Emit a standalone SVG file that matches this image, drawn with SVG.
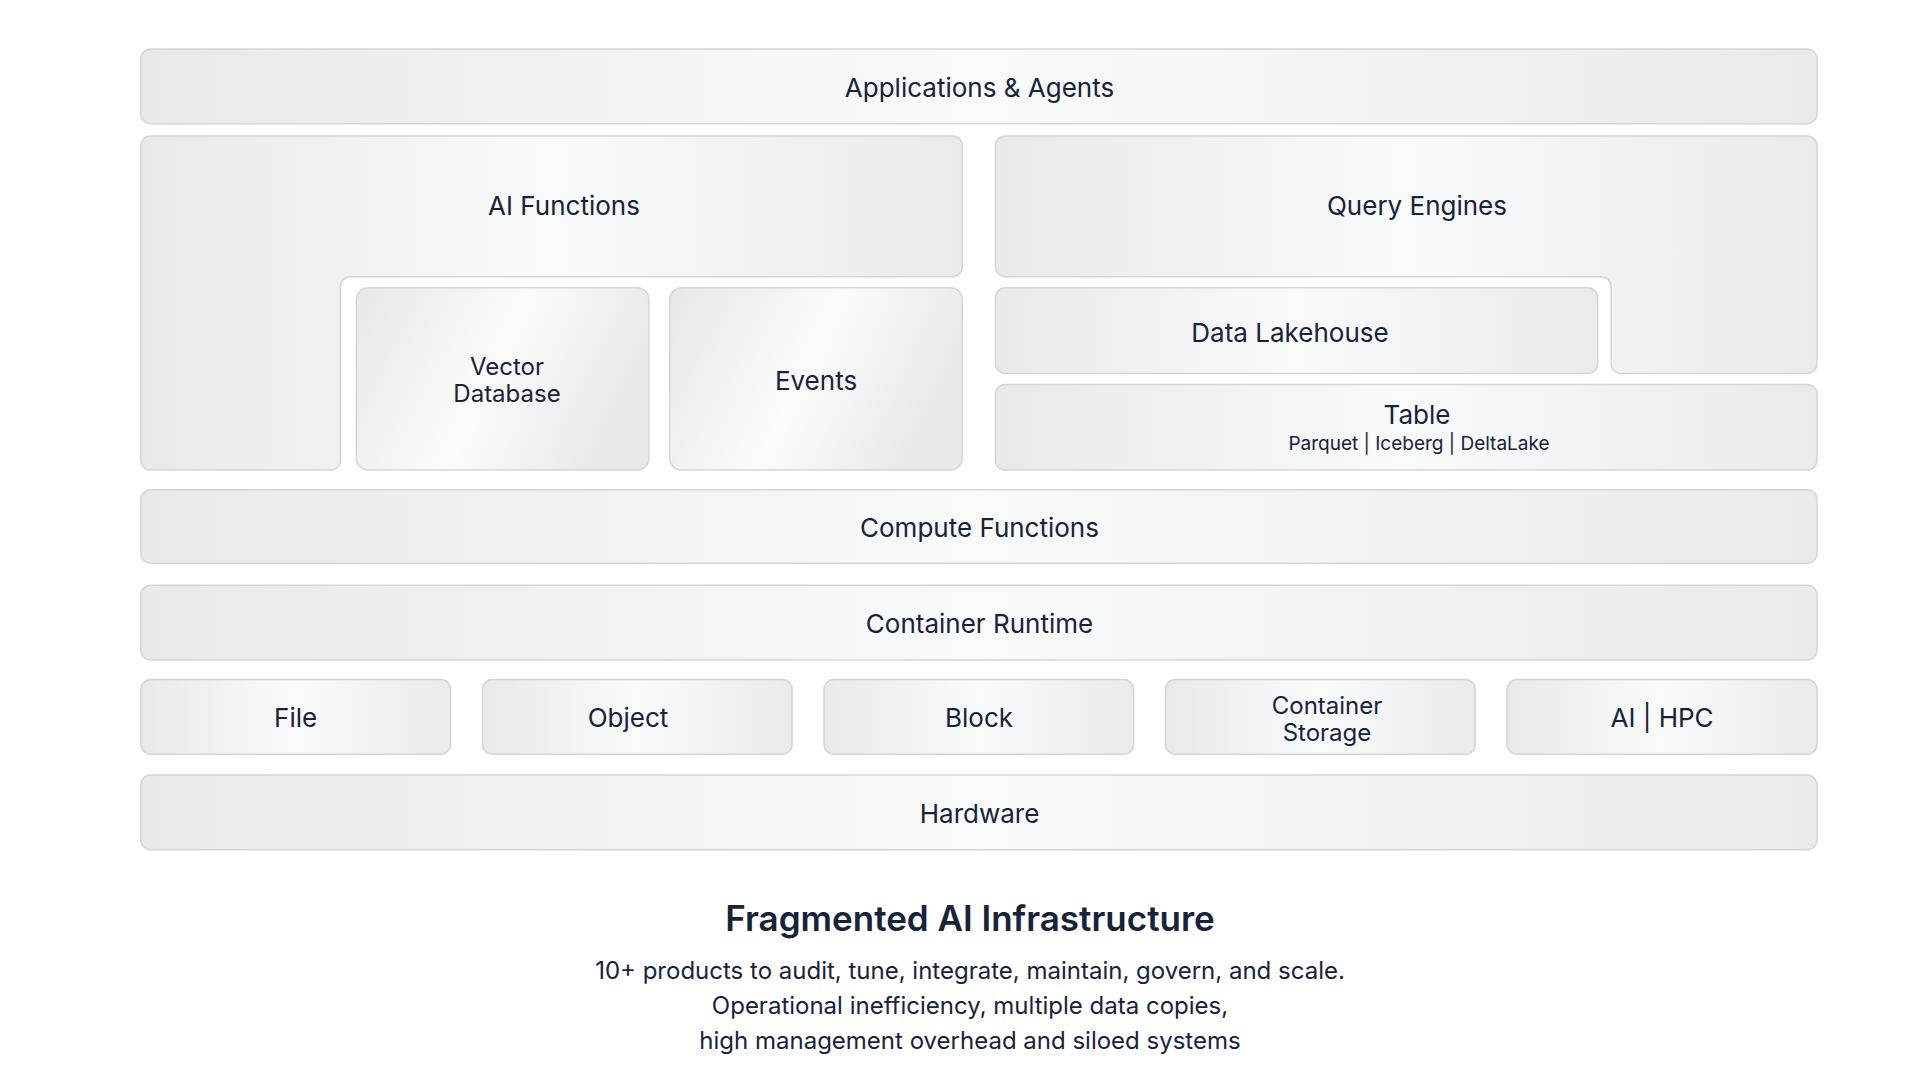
<svg xmlns="http://www.w3.org/2000/svg" width="1920" height="1080" viewBox="0 0 1920 1080">
<defs>
<linearGradient id="g" x1="0" y1="0" x2="1" y2="0">
<stop offset="0" stop-color="#e8e9eb"/><stop offset="0.5" stop-color="#f9fafa"/><stop offset="1" stop-color="#e9eaec"/>
</linearGradient>
<linearGradient id="g2" x1="0" y1="0" x2="1" y2="0.3">
<stop offset="0" stop-color="#e6e7e9"/><stop offset="0.55" stop-color="#fbfbfb"/><stop offset="1" stop-color="#e8e9eb"/>
</linearGradient>
</defs>
<style>
.b{fill:url(#g);stroke:#d3d5d8;stroke-width:1.5}
.c{fill:url(#g2);stroke:#d3d5d8;stroke-width:1.5}
text{font-family:Inter,"Liberation Sans",sans-serif;fill:#17223b;text-anchor:middle}
.l{font-size:26px}
.m{font-size:24px}
.s{font-size:19px}
.t{font-size:35px;font-weight:600}
.d{font-size:24px}
</style>
<rect width="1920" height="1080" fill="#fff"/>
<g id="apps"><rect class="b" x="140.8" y="49" width="1676.2" height="74.7" rx="10"/><text class="l" x="979.5" y="97">Applications &amp; Agents</text></g>
<g id="ai-functions"><path class="b" d="M150.8 135.9 H952.3 a10 10 0 0 1 10 10 V266.7 a10 10 0 0 1 -10 10 H350.4 a10 10 0 0 0 -10 10 V460.1 a10 10 0 0 1 -10 10 H150.8 a10 10 0 0 1 -10 -10 V145.9 a10 10 0 0 1 10 -10 Z"/><text class="l" x="564" y="215">AI Functions</text></g>
<g id="vector-db"><rect class="c" x="356.3" y="287.7" width="292.6" height="182.4" rx="12"/><text class="m" x="507" y="375">Vector</text><text class="m" x="507" y="402">Database</text></g>
<g id="events"><rect class="c" x="669.7" y="287.7" width="292.6" height="182.4" rx="12"/><text class="l" x="816" y="390">Events</text></g>
<g id="query-engines"><path class="b" d="M1005.4 135.9 H1807 a10 10 0 0 1 10 10 V363.4 a10 10 0 0 1 -10 10 H1621.2 a10 10 0 0 1 -10 -10 V286.7 a10 10 0 0 0 -10 -10 H1005.4 a10 10 0 0 1 -10 -10 V145.9 a10 10 0 0 1 10 -10 Z"/><text class="l" x="1417" y="215">Query Engines</text></g>
<g id="lakehouse"><rect class="b" x="995.4" y="287.7" width="602.3" height="85.7" rx="10"/><text class="l" x="1290" y="342">Data Lakehouse</text></g>
<g id="table"><rect class="b" x="995.4" y="384.4" width="821.6" height="85.7" rx="10"/><text class="l" x="1417" y="424">Table</text><text class="s" x="1419" y="450">Parquet | Iceberg | DeltaLake</text></g>
<g id="compute"><rect class="b" x="140.8" y="489.7" width="1676.2" height="73.5" rx="10"/><text class="l" x="979.5" y="537">Compute Functions</text></g>
<g id="runtime"><rect class="b" x="140.8" y="585.2" width="1676.2" height="74.7" rx="10"/><text class="l" x="979.5" y="633">Container Runtime</text></g>
<g id="file"><rect class="b" x="140.8" y="679.5" width="309.7" height="74.7" rx="10"/><text class="l" x="295.6" y="727">File</text></g>
<g id="object"><rect class="b" x="482.4" y="679.5" width="309.7" height="74.7" rx="10"/><text class="l" x="628" y="727">Object</text></g>
<g id="block"><rect class="b" x="824" y="679.5" width="309.7" height="74.7" rx="10"/><text class="l" x="979" y="727">Block</text></g>
<g id="container-storage"><rect class="b" x="1165.5" y="679.5" width="309.8" height="74.7" rx="10"/><text class="m" x="1327" y="714">Container</text><text class="m" x="1327" y="741">Storage</text></g>
<g id="ai-hpc"><rect class="b" x="1507.1" y="679.5" width="309.9" height="74.7" rx="10"/><text class="l" x="1662" y="727">AI | HPC</text></g>
<g id="hardware"><rect class="b" x="140.8" y="775" width="1676.2" height="74.7" rx="10"/><text class="l" x="979.5" y="823">Hardware</text></g>
<g id="caption">
<text class="t" x="970" y="931">Fragmented AI Infrastructure</text>
<text class="d" x="970" y="979">10+ products to audit, tune, integrate, maintain, govern, and scale.</text>
<text class="d" x="970" y="1014">Operational inefficiency, multiple data copies,</text>
<text class="d" x="970" y="1049">high management overhead and siloed systems</text>
</g>
<g id="connectors"/>
</svg>
